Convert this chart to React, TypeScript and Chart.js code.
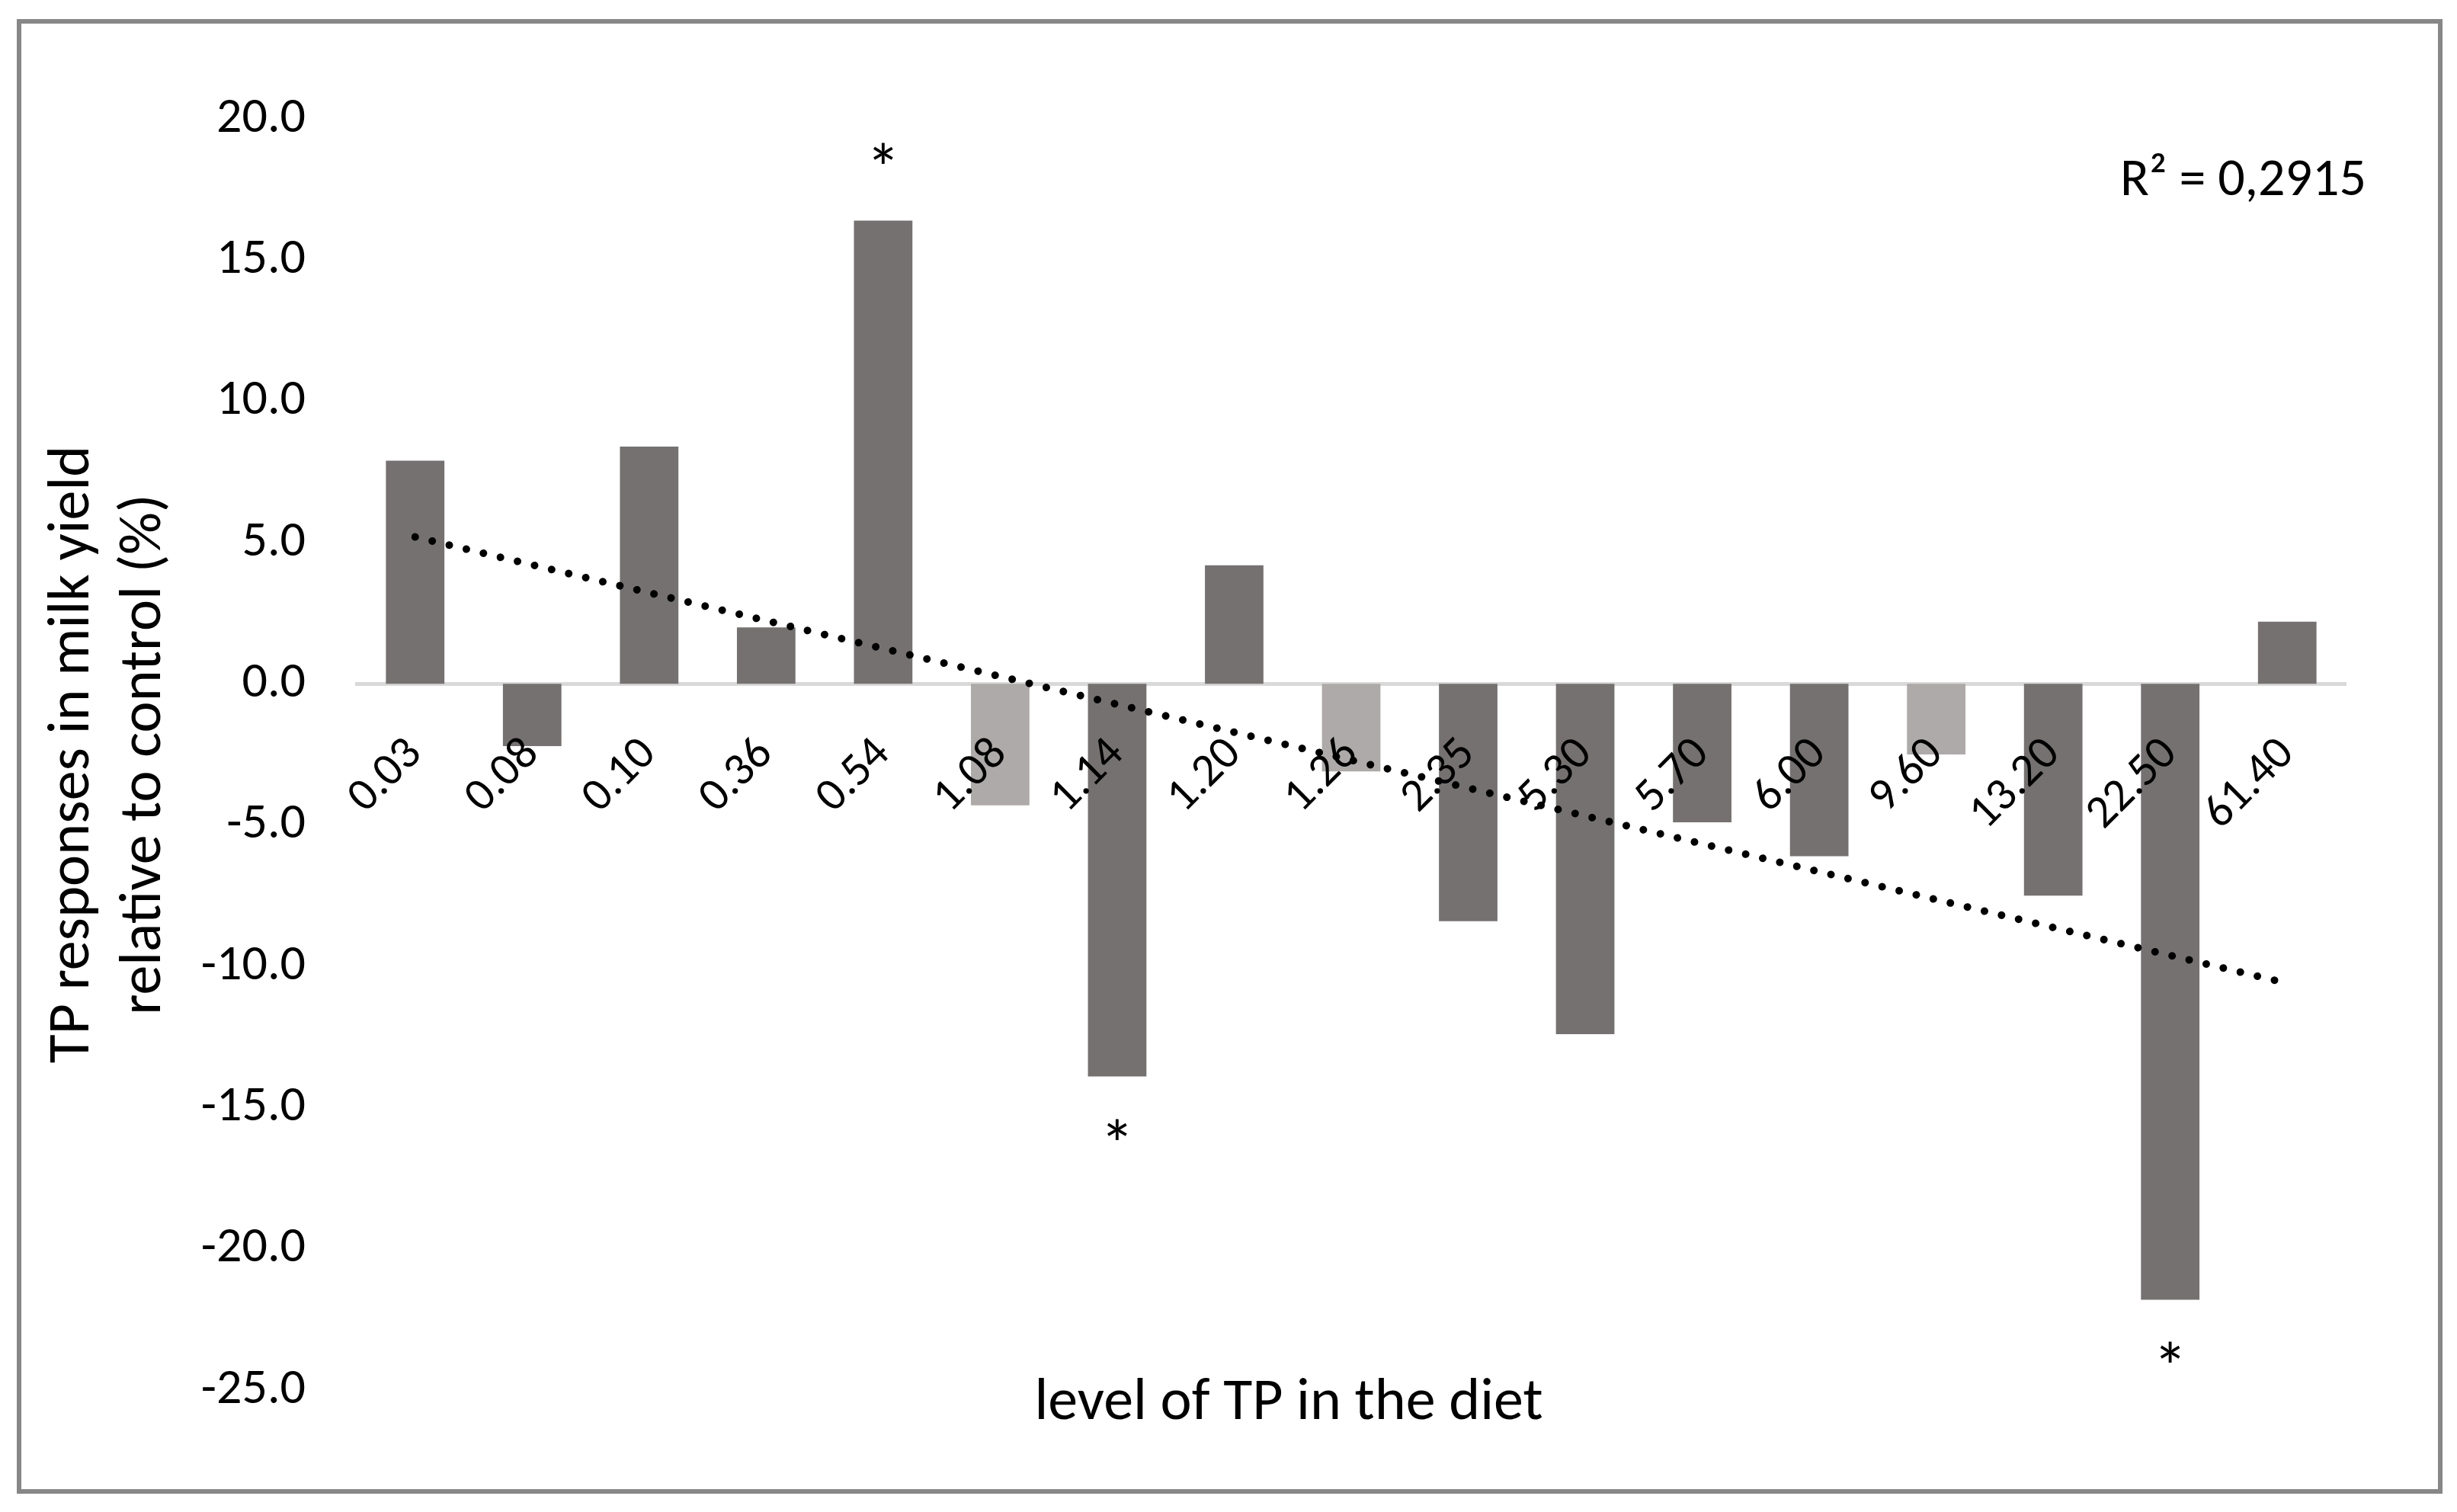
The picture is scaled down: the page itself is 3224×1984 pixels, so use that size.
import React, { useEffect, useRef } from 'react';
import { Chart } from 'chart.js/auto';

// level of TP in the diet (category axis)
const levels = ['0.03', '0.08', '0.10', '0.36', '0.54', '1.08', '1.14', '1.20', '1.26', '2.35', '5.30', '5.70', '6.00', '9.60', '13.20', '22.50', '61.40'];
// TP responses in milk yield relative to control (%)
const responses = [7.9, -2.2, 8.4, 2.0, 16.4, -4.3, -13.9, 4.2, -3.1, -8.4, -12.4, -4.9, -6.1, -2.5, -7.5, -21.8, 2.2];
// bars drawn in the lighter grey
const lightLevels = ['1.08', '1.26', '9.60'];
// bars marked with an asterisk
const starredLevels = ['0.54', '1.14', '22.50'];
// linear trend line, read at its two ends
const trendLevels = ['0.03', '61.40'];
const trendValues = [5.2, -10.6];

const yMin = -25;
const yMax = 20;
const yStep = 5;

const xTitle = 'level of TP in the diet';
const yTitle = ['TP responses in milk yield', 'relative to control (%)'];
const rSquared = 'R² = 0,2915';

const FONT = 'Carlito, Calibri, Lato, sans-serif';
const DARK = '#767171';
const LIGHT = '#AEAAAA';

const notesPlugin = {
  id: 'notes',
  afterDatasetsDraw(chart: any) {
    const { ctx } = chart;
    const meta = chart.getDatasetMeta(0);
    ctx.save();
    ctx.fillStyle = '#000';
    ctx.textAlign = 'center';
    ctx.textBaseline = 'alphabetic';
    ctx.font = `90px ${FONT}`;
    starredLevels.forEach((l) => {
      const i = levels.indexOf(l);
      const bar = meta.data[i];
      const y = responses[i] >= 0 ? bar.y - 37 : bar.y + 120;
      ctx.fillText('*', bar.x, y);
    });
    ctx.font = `78px ${FONT}`;
    ctx.fillText(xTitle, 1691, 1862);
    ctx.textAlign = 'right';
    ctx.font = `70px ${FONT}`;
    ctx.fillText(rSquared, 3105, 256);
    ctx.restore();
  },
};

const TrendChart: React.FC = () => {
  const chartRef = useRef<HTMLCanvasElement>(null);

  useEffect(() => {
    const ctx = chartRef.current?.getContext('2d');
    if (!ctx) {
      return;
    }

    const chart = new Chart(ctx, {
      type: 'bar',
      data: {
        labels: levels,
        datasets: [
          {
            type: 'bar',
            data: responses,
            backgroundColor: levels.map((l) => (lightLevels.includes(l) ? LIGHT : DARK)),
            borderWidth: 0,
            categoryPercentage: 1,
            barPercentage: 0.5,
            order: 1,
          },
          {
            type: 'line',
            data: trendLevels.map((l, i) => ({ x: l, y: trendValues[i] })),
            borderColor: '#000',
            borderWidth: 10,
            borderDash: [0.01, 23],
            borderCapStyle: 'round',
            pointRadius: 0,
            fill: false,
            tension: 0,
            order: 0,
          },
        ],
      } as any,
      options: {
        animation: false,
        responsive: true,
        maintainAspectRatio: false,
        layout: {
          padding: { left: 30, top: 156, right: 146, bottom: 160 },
        },
        plugins: {
          legend: { display: false },
          tooltip: { enabled: false },
        },
        scales: {
          x: {
            type: 'category',
            position: { y: 0 } as any,
            grid: { display: false, drawTicks: false },
            border: { display: true, color: '#D9D9D9', width: 5 },
            ticks: {
              z: 1,
              autoSkip: false,
              minRotation: 45,
              maxRotation: 45,
              padding: 57,
              color: '#000',
              font: { family: FONT, size: 61 },
            },
          },
          y: {
            min: yMin,
            max: yMax,
            grid: { display: false, drawTicks: false },
            border: { display: false },
            afterFit: (scale: any) => {
              scale.width = 438;
            },
            ticks: {
              stepSize: yStep,
              padding: 67,
              color: '#000',
              font: { family: FONT, size: 66 },
              callback: (v: any) => Number(v).toFixed(1),
            },
            title: {
              display: true,
              text: yTitle,
              color: '#000',
              padding: { top: 20, bottom: 0 },
              font: { family: FONT, size: 78, lineHeight: 1.2 },
            },
          },
        },
      },
      plugins: [notesPlugin],
    } as any);

    return () => {
      chart.destroy();
    };
  }, []);

  return (
    <div style={{ position: 'absolute', left: 0, top: 0, width: '3224px', height: '1984px', background: '#fff' }}>
      <div
        style={{
          position: 'absolute',
          left: '22px',
          top: '25px',
          width: '3183px',
          height: '1935px',
          boxSizing: 'border-box',
          border: '6px solid #878787',
        }}
      />
      <div style={{ position: 'absolute', left: 0, top: 0, width: '3224px', height: '1984px' }}>
        <canvas ref={chartRef}></canvas>
      </div>
    </div>
  );
};

export default function App() {
  return <TrendChart />;
}
